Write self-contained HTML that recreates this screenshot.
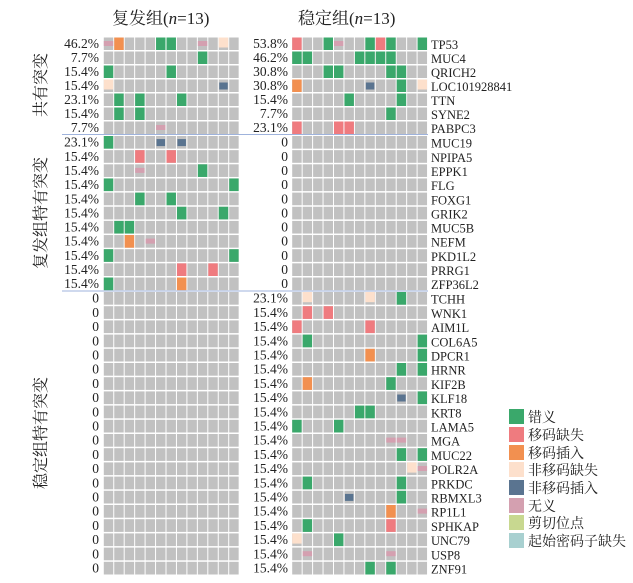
<!DOCTYPE html>
<html><head><meta charset="utf-8"><style>
html,body{margin:0;padding:0;background:#fff;}
svg{display:block;}
text{font-family:"Liberation Serif","Noto Serif CJK SC",serif;fill:#222;}
.p{font-size:13.5px;text-anchor:end;}
.g{font-size:12.5px;}
.t{font-size:17px;}
.v{font-size:16px;}
.l{font-size:14px;font-family:"Liberation Serif","Noto Serif CJK SC",serif;}
</style></head><body>
<svg id="s" width="633" height="583" viewBox="0 0 633 583" xmlns="http://www.w3.org/2000/svg">
<g id="cells"></g>
<line x1="62" y1="134.5" x2="428" y2="134.5" stroke="#9fb3dc" stroke-width="1"/>
<line x1="62" y1="291" x2="428" y2="291" stroke="#9fb3dc" stroke-width="1"/>
<text class="t" x="112" y="24">复发组(<tspan font-style="italic">n</tspan>=13)</text>
<text class="t" x="298" y="24">稳定组(<tspan font-style="italic">n</tspan>=13)</text>
<text class="v" transform="translate(46,85) rotate(-90)" text-anchor="middle">共有突变</text>
<text class="v" transform="translate(46,213) rotate(-90)" text-anchor="middle">复发组特有突变</text>
<text class="v" transform="translate(46,433) rotate(-90)" text-anchor="middle">稳定组特有突变</text>
<g id="labels"></g>
<g>
<rect x="509" y="409" width="15" height="15" fill="#3aa86b"/><text class="l" x="528" y="422">错义</text>
<rect x="509" y="427" width="15" height="15" fill="#ef7b7f"/><text class="l" x="528" y="440">移码缺失</text>
<rect x="509" y="445" width="15" height="15" fill="#f29050"/><text class="l" x="528" y="458">移码插入</text>
<rect x="509" y="462" width="15" height="15" fill="#fde0cc"/><text class="l" x="528" y="475">非移码缺失</text>
<rect x="509" y="480" width="15" height="15" fill="#5a7490"/><text class="l" x="528" y="493">非移码插入</text>
<rect x="509" y="498" width="15" height="15" fill="#d4a0b0"/><text class="l" x="528" y="511">无义</text>
<rect x="509" y="515" width="15" height="15" fill="#c8d890"/><text class="l" x="528" y="528">剪切位点</text>
<rect x="509" y="533" width="15" height="15" fill="#a8d0d0"/><text class="l" x="528" y="546">起始密码子缺失</text>
</g>
</svg>
<script>
var NS="http://www.w3.org/2000/svg";
var C={G:"#3aa86b",R:"#ef7b7f",O:"#f29050",P:"#fde0cc",B:"#5a7490",M:"#d4a0b0"};
var genes=["TP53","MUC4","QRICH2","LOC101928841","TTN","SYNE2","PABPC3","MUC19","NPIPA5","EPPK1","FLG","FOXG1","GRIK2","MUC5B","NEFM","PKD1L2","PRRG1","ZFP36L2","TCHH","WNK1","AIM1L","COL6A5","DPCR1","HRNR","KIF2B","KLF18","KRT8","LAMA5","MGA","MUC22","POLR2A","PRKDC","RBMXL3","RP1L1","SPHKAP","UNC79","USP8","ZNF91"];
var lp=["46.2%","7.7%","15.4%","15.4%","23.1%","15.4%","7.7%","23.1%","15.4%","15.4%","15.4%","15.4%","15.4%","15.4%","15.4%","15.4%","15.4%","15.4%"];
var rp=["53.8%","46.2%","30.8%","30.8%","15.4%","7.7%","23.1%"];
for(var i=0;i<11;i++)rp.push("0");
rp.push("23.1%");for(i=0;i<20;i++)rp.push("15.4%");
while(lp.length<39)lp.push("0");
var L={0:[[0,"M"],[1,"O"],[5,"G"],[6,"G"],[9,"M"],[11,"P"]],1:[[9,"G"]],2:[[0,"G"],[6,"G"]],3:[[0,"P"],[11,"B"]],4:[[1,"G"],[3,"G"],[7,"G"]],5:[[1,"G"],[3,"G"]],6:[[5,"M"]],
7:[[0,"G"],[5,"B"],[7,"B"]],8:[[3,"R"],[6,"R"]],9:[[3,"M"],[9,"G"]],10:[[0,"G"],[12,"G"]],11:[[3,"G"],[6,"G"]],12:[[7,"G"],[11,"G"]],13:[[1,"G"],[2,"G"]],14:[[2,"O"],[4,"M"]],15:[[0,"G"],[12,"G"]],16:[[7,"R"],[10,"R"]],17:[[0,"G"],[7,"O"]]};
var R={0:[[0,"R"],[3,"G"],[4,"M"],[7,"G"],[8,"R"],[9,"G"],[12,"G"]],1:[[0,"G"],[1,"G"],[6,"G"],[7,"G"],[8,"G"],[9,"G"]],2:[[3,"G"],[4,"G"],[9,"G"],[10,"G"]],3:[[0,"O"],[7,"B"],[10,"G"],[12,"P"]],4:[[5,"G"],[10,"G"]],5:[[9,"G"]],6:[[0,"R"],[4,"R"],[5,"R"]],
18:[[1,"P"],[7,"P"],[10,"G"]],19:[[1,"R"],[3,"R"]],20:[[0,"R"],[7,"R"]],21:[[1,"G"],[12,"G"]],22:[[7,"O"],[12,"G"]],23:[[10,"G"],[12,"G"]],24:[[1,"O"],[9,"G"]],25:[[10,"B"],[12,"G"]],26:[[6,"G"],[7,"G"]],27:[[0,"G"],[4,"G"]],
28:[[9,"M"],[10,"M"]],29:[[10,"G"],[12,"G"]],30:[[11,"P"],[12,"M"]],31:[[1,"G"],[10,"G"]],32:[[5,"B"],[10,"G"]],33:[[9,"O"],[12,"M"]],34:[[1,"G"],[9,"R"]],35:[[0,"P"],[4,"G"]],36:[[1,"M"],[9,"M"]],37:[[7,"G"],[9,"G"]]};
function rowY(r){if(r<7)return [37+r*14,14];if(r<18)return [135.5+(r-7)*14.15,14.15];return [291.5+(r-18)*14.2,14.2];}
var g=document.getElementById("cells"),lb=document.getElementById("labels");
function rect(x,y,w,h,f){var e=document.createElementNS(NS,"rect");e.setAttribute("x",x);e.setAttribute("y",y);e.setAttribute("width",w);e.setAttribute("height",h);e.setAttribute("fill",f);g.appendChild(e);}
function txt(x,y,s,c){var e=document.createElementNS(NS,"text");e.setAttribute("x",x);e.setAttribute("y",y);e.setAttribute("class",c);e.textContent=s;lb.appendChild(e);}
var N=genes.length;
for(var r=0;r<N;r++){var a=rowY(r),y=a[0],h=a[1];
 [[103.3,L],[291.7,R]].forEach(function(P){var x0=P[0],M=P[1];
  for(var c=0;c<13;c++)rect(x0+c*10.45+0.5,y+0.5,9.45,h-1.5,"#c1c1c1");
  (M[r]||[]).forEach(function(m){var x=x0+m[0]*10.45+0.5,k=m[1];
   if(k=="M")rect(x,y+h/2-3,9.45,5,C.M);
   else if(k=="B")rect(x+0.5,y+h/2-3.5,8.5,7,C.B);
   else if(k=="P")rect(x,y+0.5,9.45,h-4,C.P);
   else rect(x,y+0.5,9.45,h-1.5,C[k]);});
 });
 txt(99,y+h-3,lp[r],"p");txt(288,y+h-3,rp[r],"p");txt(431,y+h-2,genes[r],"g");
}
</script>
</body></html>
